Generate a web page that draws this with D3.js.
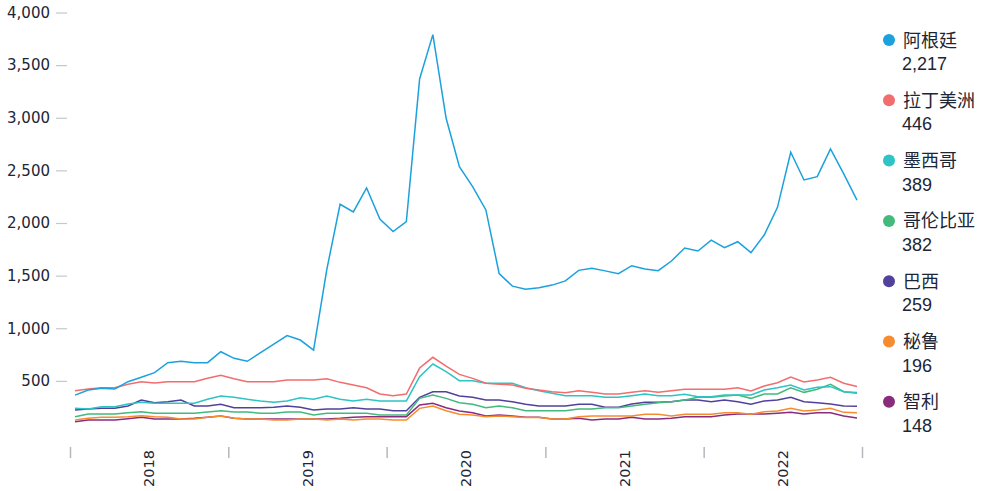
<!DOCTYPE html>
<html>
<head>
<meta charset="utf-8">
<script src="https://cdn.jsdelivr.net/npm/d3@7"></script>
<style>
  body { margin: 0; background: #fff; }
  svg { display: block; }
</style>
</head>
<body>
<script>
// monthly values, Jan 2018 .. Dec 2022
var names = ["阿根廷", "拉丁美洲", "墨西哥", "哥伦比亚", "巴西", "秘鲁", "智利"];
var colors = ["#1ba1de", "#f26d6d", "#2ec3c4", "#43b97c", "#51419c", "#f78c2f", "#8a2c7e"];

var argentina = [365, 413, 430, 423, 492, 534, 578, 673, 686, 673, 673, 777,
  714, 686, 768, 850, 930, 888, 793, 1560, 2178, 2105, 2333, 2038,
  1918, 2013, 3368, 3790, 2995, 2535, 2345, 2124, 1520, 1400, 1370, 1385,
  1410, 1450, 1550, 1570, 1545, 1518, 1594, 1563, 1547, 1639, 1762, 1734,
  1838, 1766, 1822, 1718, 1886, 2149, 2672, 2409, 2440, 2703, 2466, 2217];
var latam = [407, 423, 435, 435, 467, 492, 480, 492, 492, 492, 524, 553,
  521, 492, 492, 492, 508, 508, 508, 521, 486, 461, 435, 375,
  359, 375, 622, 724, 641, 562, 524, 477, 467, 461, 429, 413,
  397, 388, 407, 391, 375, 375, 391, 407, 391, 407, 420, 420,
  420, 420, 435, 404, 451, 483, 537, 489, 508, 534, 477, 446];
var mexico = [239, 233, 255, 255, 280, 296, 287, 287, 287, 287, 325, 356,
  344, 325, 309, 298, 309, 340, 325, 356, 325, 309, 325, 309,
  309, 309, 540, 660, 587, 502, 502, 477, 477, 477, 435, 407,
  382, 359, 359, 359, 344, 344, 359, 375, 359, 359, 372, 350,
  350, 366, 366, 366, 413, 435, 461, 413, 439, 445, 397, 389];
var colombia = [160, 185, 185, 185, 198, 207, 192, 192, 192, 192, 204, 217,
  204, 204, 192, 192, 204, 204, 176, 192, 192, 192, 192, 176,
  176, 176, 334, 366, 334, 293, 277, 245, 261, 245, 217, 217,
  217, 217, 233, 233, 245, 245, 261, 277, 293, 302, 318, 344,
  344, 356, 366, 334, 375, 375, 435, 391, 420, 467, 397, 382];
var brazil = [223, 233, 239, 239, 261, 318, 293, 302, 318, 261, 261, 277,
  245, 245, 245, 249, 261, 249, 223, 233, 233, 245, 233, 233,
  217, 217, 344, 397, 397, 356, 344, 318, 318, 302, 277, 261,
  261, 261, 277, 277, 249, 249, 280, 296, 296, 302, 318, 318,
  302, 318, 302, 277, 309, 318, 344, 302, 293, 280, 261, 259];
var peru = [128, 144, 154, 154, 160, 169, 160, 154, 138, 138, 154, 166,
  144, 138, 138, 128, 128, 138, 138, 128, 138, 128, 138, 138,
  128, 128, 239, 261, 217, 182, 176, 160, 166, 160, 151, 151,
  138, 138, 160, 166, 166, 166, 166, 182, 182, 166, 182, 182,
  182, 198, 198, 182, 207, 214, 239, 214, 223, 239, 201, 196];
var chile = [112, 128, 128, 128, 141, 154, 138, 138, 138, 144, 154, 166,
  144, 138, 138, 138, 138, 138, 138, 138, 144, 154, 160, 160,
  160, 160, 271, 287, 245, 214, 198, 166, 176, 166, 154, 154,
  138, 138, 144, 128, 138, 138, 154, 138, 138, 144, 160, 160,
  160, 176, 185, 185, 185, 192, 201, 185, 198, 198, 166, 148];

var yTicks = [500, 1000, 1500, 2000, 2500, 3000, 3500, 4000];
var years = [2018, 2019, 2020, 2021, 2022];

var series = [argentina, latam, mexico, colombia, brazil, peru, chile];
var months = d3.range(argentina.length);

var svg = d3.select("body").append("svg")
  .attr("width", 981)
  .attr("height", 491);

// scales
var xTime = d3.scaleTime()
  .domain([new Date(2018, 0, 1), new Date(2023, 0, 1)])
  .range([70, 862]);

var x = d3.scaleLinear()
  .domain([0, months.length - 1])
  .range([75, 857]);

var y = d3.scaleLinear()
  .domain([0, 4000])
  .range([433.5, 12.5]);

// y axis
var yAxis = d3.axisLeft(y)
  .tickValues(yTicks)
  .tickFormat(d3.format(","))
  .tickSize(11)
  .tickPadding(6);

var gy = svg.append("g")
  .attr("transform", "translate(67,0)")
  .call(yAxis);
gy.select(".domain").remove();
gy.selectAll(".tick line").attr("stroke", "#c4c8cc").attr("stroke-width", 1.2);
gy.selectAll(".tick text")
  .attr("fill", "#1c2636")
  .style("font-family", "'DejaVu Sans', Verdana, sans-serif")
  .style("font-size", "15px");

// x axis: year boundaries as ticks, labels centred in each year
var xAxis = d3.axisBottom(xTime)
  .ticks(d3.timeYear.every(1))
  .tickSize(11)
  .tickFormat("");

var gx = svg.append("g")
  .attr("transform", "translate(0,447)")
  .call(xAxis);
gx.select(".domain").remove();
gx.selectAll(".tick line").attr("stroke", "#b4b8bc").attr("stroke-width", 1.5);

svg.append("g").selectAll("text")
  .data(years)
  .enter()
  .append("text")
  .attr("transform", function(d) {
    var mid = (xTime(new Date(d, 0, 1)) + xTime(new Date(d + 1, 0, 1))) / 2;
    return "translate(" + mid + ",450) rotate(-90)";
  })
  .attr("dy", "0.35em")
  .attr("text-anchor", "end")
  .attr("fill", "#1c2636")
  .style("font-family", "'DejaVu Sans', Verdana, sans-serif")
  .style("font-size", "14.5px")
  .text(function(d) { return d; });

// lines
var line = d3.line()
  .x(function(d, i) { return x(i); })
  .y(function(d) { return y(d); });

// draw the small series first so Argentina sits on top
for (var k = series.length - 1; k >= 0; k--) {
  svg.append("path")
    .datum(series[k])
    .attr("fill", "none")
    .attr("stroke", colors[k])
    .attr("stroke-width", 1.5)
    .attr("stroke-linejoin", "miter")
    .attr("d", line);
}

// legend
var legend = svg.append("g").selectAll("g")
  .data(names)
  .enter()
  .append("g")
  .attr("transform", function(d, i) { return "translate(889," + (40 + i * 60.3) + ")"; });

legend.append("circle")
  .attr("r", 6)
  .attr("fill", function(d, i) { return colors[i]; });

legend.append("text")
  .attr("x", 14)
  .attr("y", 6.5)
  .attr("fill", "#1c2636")
  .style("font-family", "'Liberation Sans', Arial, 'Noto Sans CJK SC', sans-serif")
  .style("font-size", "18px")
  .text(function(d) { return d; });

legend.append("text")
  .attr("x", 13)
  .attr("y", 30)
  .attr("fill", "#1c2636")
  .style("font-family", "'Liberation Sans', Arial, sans-serif")
  .style("font-size", "18px")
  .text(function(d, i) { var s = series[i]; return d3.format(",")(s[s.length - 1]); });
</script>
</body>
</html>
